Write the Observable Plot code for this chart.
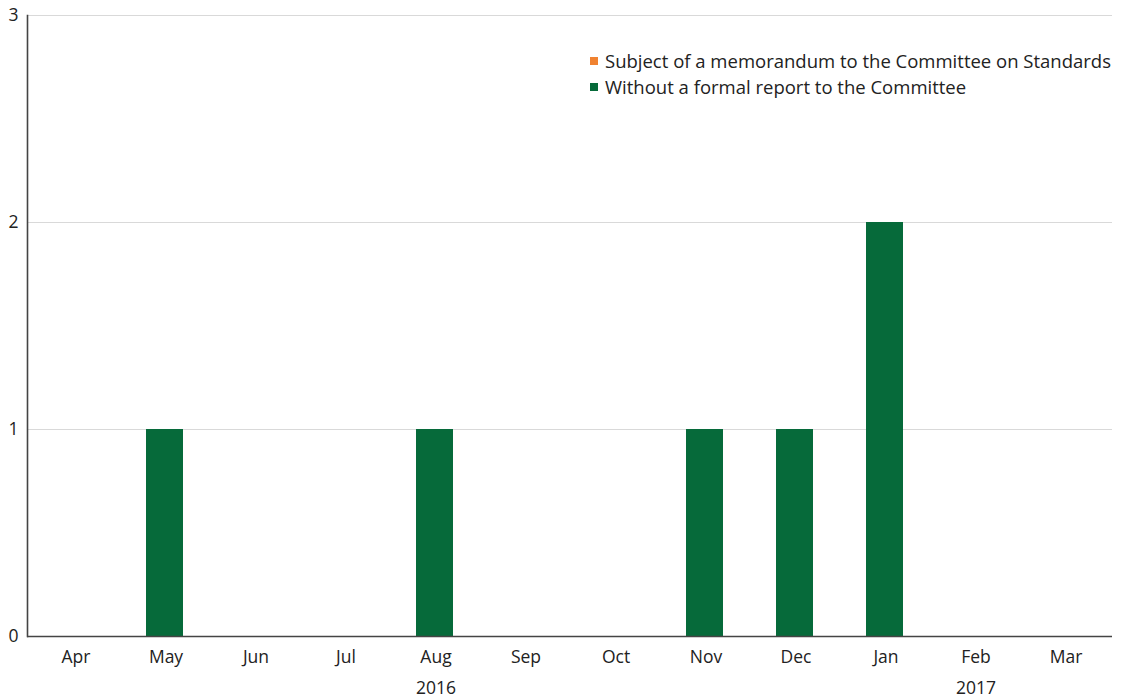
<!DOCTYPE html>
<html>
<head>
<meta charset="utf-8">
<script src="https://cdn.jsdelivr.net/npm/d3@7"></script>
<script src="https://cdn.jsdelivr.net/npm/@observablehq/plot@0.6"></script>
<style>
  html, body { margin: 0; padding: 0; background: #fff; }
  #wrap { position: relative; width: 1121px; height: 699px; font-family: "Open Sans", "Noto Sans", sans-serif; }
  #legend { position: absolute; left: 590px; top: 48px; font-size: 18.5px; color: #222; line-height: 26px; }
  #legend .sw { display: inline-block; width: 8px; height: 8px; margin-right: 7px; vertical-align: 3px; }
</style>
</head>
<body>
<div id="wrap"><div id="chart"></div><div id="legend"></div></div>
<script>
const months = ["Apr","May","Jun","Jul","Aug","Sep","Oct","Nov","Dec","Jan","Feb","Mar"];
const seriesNames = ["Subject of a memorandum to the Committee on Standards", "Without a formal report to the Committee"];
const seriesColors = ["#f08231", "#066a3a"];
const memorandum = [0,0,0,0,0,0,0,0,0,0,0,0];
const withoutReport = [0,1,0,0,1,0,0,1,1,2,0,0];
const yTicks = [0,1,2,3];
const yearLabels = [{month: "Aug", year: "2016"}, {month: "Feb", year: "2017"}];

const rows = [];
months.forEach((m, i) => {
  rows.push({month: m, series: seriesNames[0], value: memorandum[i]});
  rows.push({month: m, series: seriesNames[1], value: withoutReport[i]});
});

const chart = Plot.plot({
  width: 1121,
  height: 699,
  marginLeft: 27,
  marginRight: 9,
  marginTop: 15,
  marginBottom: 63,
  style: {fontFamily: '"Open Sans", "Noto Sans", sans-serif', fontSize: "17.5px", color: "#222", background: "#fff"},
  x: {domain: months, paddingInner: 0.59, paddingOuter: 0.295, label: null},
  y: {domain: [0, 3], ticks: yTicks, label: null},
  color: {domain: seriesNames, range: seriesColors},
  marks: [
    Plot.gridY(yTicks.filter(d => d > 0), {stroke: "#d9d9d9", strokeOpacity: 1, strokeWidth: 1.2}),
    Plot.barY(rows, {x: "month", y: "value", fill: "series"}),
    Plot.frame({anchor: "left", stroke: "#444", strokeWidth: 1.6}),
    Plot.ruleY([0], {stroke: "#444", strokeWidth: 1.6}),
    Plot.axisX({tickSize: 0, tickPadding: 14, fontSize: 17.5, fill: "#222", dx: 1}),
    Plot.axisY({ticks: yTicks, tickSize: 0, tickPadding: 9, tickFormat: d3.format("d"), fontSize: 17.5, fill: "#222"}),
    Plot.text(yearLabels, {x: "month", y: () => 0, text: "year", dy: 52, dx: 1, fontSize: 17.5, fill: "#222"})
  ]
});
document.getElementById("chart").appendChild(chart);

const legend = document.getElementById("legend");
seriesNames.forEach((name, i) => {
  const div = document.createElement("div");
  div.innerHTML = `<span class="sw" style="background:${seriesColors[i]}"></span>${name}`;
  legend.appendChild(div);
});
</script>
</body>
</html>
